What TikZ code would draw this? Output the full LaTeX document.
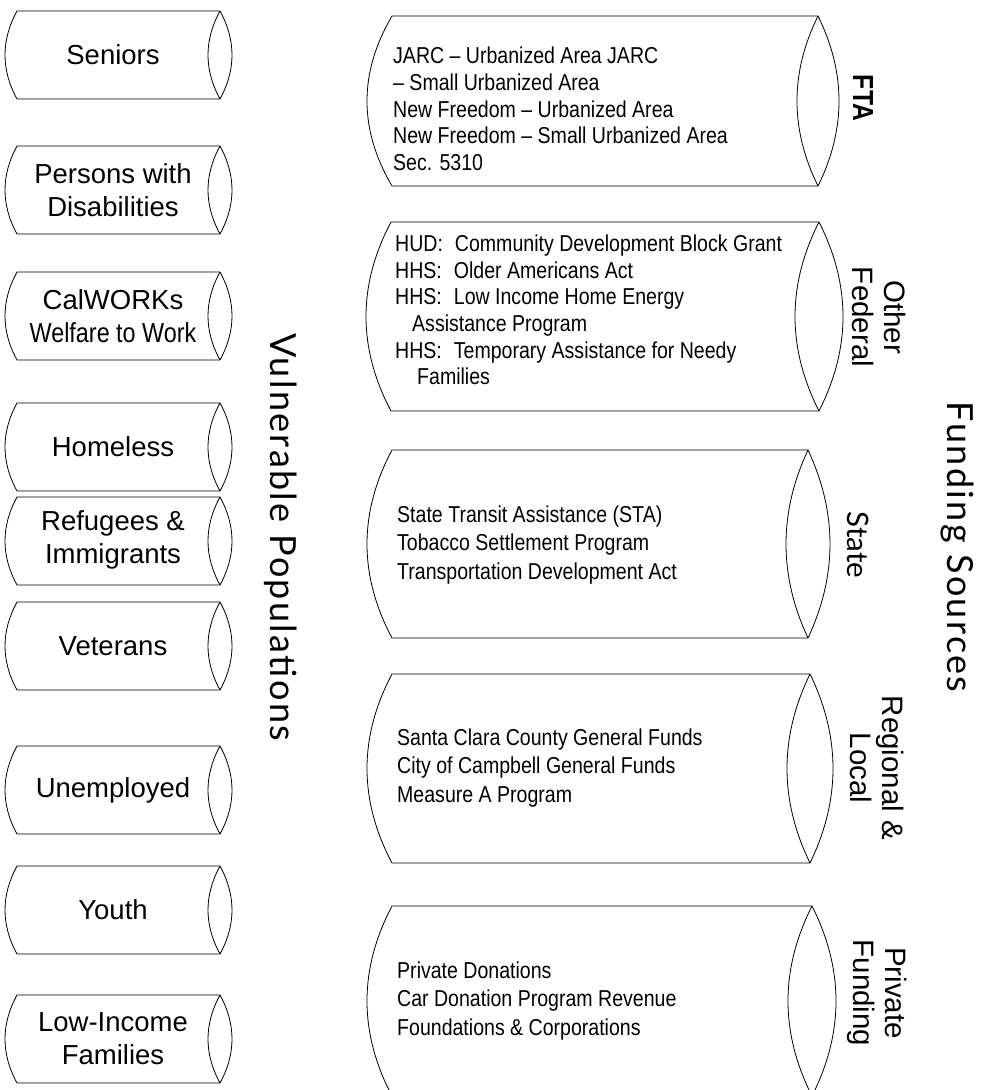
\documentclass[tikz,border=0pt]{standalone}
\usepackage{fontspec}
\setmainfont{Liberation Sans}
\newfontfamily\narrowfont[FakeStretch=0.85]{Liberation Sans}
\newfontfamily\headfont[LetterSpace=6.5]{Lato}
\newfontfamily\statefont{Lato}
\usetikzlibrary{positioning}

\tikzstyle{popname} = [align=center, font=\fontsize{27.5}{33}\selectfont]
\tikzstyle{fundname} = [align=center, rotate=-90, font=\fontsize{29.5}{32}\selectfont]
\tikzstyle{fundlist} = [align=left, anchor=west, inner sep=0pt, font=\narrowfont\fontsize{23}{26.7}\selectfont]
\tikzstyle{heading} = [rotate=-90, font=\headfont\fontsize{36}{40}\selectfont]
\tikzstyle{tube} = [draw=black, line width=0.8pt]

% tube: left x, lens x, top, bottom, left bulge, lens bulge
\newcommand{\drawtube}[6]{%
  \draw [tube] (#1,#3) -- (#2,#3)
    .. controls ({#2+4/3*#6},{(#3)+((#4)-(#3))/3}) and ({#2+4/3*#6},{(#4)-((#4)-(#3))/3}) .. (#2,#4)
    -- (#1,#4)
    .. controls ({#1-4/3*#5},{(#4)-((#4)-(#3))/3}) and ({#1-4/3*#5},{(#3)+((#4)-(#3))/3}) .. cycle;
  \draw [tube] (#2,#3)
    .. controls ({#2-4/3*#6},{(#3)+((#4)-(#3))/3}) and ({#2-4/3*#6},{(#4)-((#4)-(#3))/3}) .. (#2,#4);
}

\begin{document}
\begin{tikzpicture}[x=1pt, y=-1pt]
	\useasboundingbox (0,0) rectangle (985,1090);
	\clip (0,0) rectangle (985,1090);

	% vulnerable populations
	\foreach \c in {55,190,316,447,541,646,790,910,1039}
		\drawtube{17}{220}{\c-44}{\c+44}{12}{12};

	\node (seniors) [popname] at (113,55) {Seniors};
	\node (disabled) [popname] at (113,190) {Persons with\\Disabilities};
	\node (calworks) [popname] at (113,316) {CalWORKs\\{\narrowfont Welfare to Work}};
	\node (homeless) [popname] at (113,447) {Homeless};
	\node (refugees) [popname] at (113,540) {Refugees \&\\Immigrants};
	\node (veterans) [popname] at (113,646) {Veterans};
	\node (unemployed) [popname] at (113,790) {Unemployed};
	\node (youth) [popname] at (113,910) {Youth};
	\node (lowincome) [popname] at (113,1039) {Low-Income\\Families};

	\node (vulnerable) [heading] at (281,537) {Vulnerable Populations};

	% funding sources
	\drawtube{392}{818}{16}{186}{25}{21};
	\drawtube{391}{819}{222}{411}{25}{24};
	\drawtube{392}{808}{450}{638}{25}{22};
	\drawtube{392}{810}{674}{863}{25}{23};
	\drawtube{392}{812}{906}{1096}{25}{24};

	\node (fta) [fundname, font=\narrowfont\bfseries\fontsize{29}{32}\selectfont] at (863,98) {FTA};
	\node (otherfed) [fundname] at (879,317) {Other\\Federal};
	\node (state) [fundname, font=\statefont\fontsize{29.5}{32}\selectfont] at (858,545) {State};
	\node (regional) [fundname] at (877,768) {Regional \&\\Local};
	\node (private) [fundname] at (877,993) {Private\\Funding};

	\node (ftalist) [fundlist] at (393,109) {JARC – Urbanized Area JARC\\– Small Urbanized Area\\New Freedom – Urbanized Area\\New Freedom – Small Urbanized Area\\Sec. 5310};
	\node (fedlist) [fundlist] at (395,310) {HUD:\hspace{12pt}Community Development Block Grant\\HHS:\hspace{12pt}Older Americans Act\\HHS:\hspace{12pt}Low Income Home Energy\\\hspace*{17pt}Assistance Program\\HHS:\hspace{12pt}Temporary Assistance for Needy\\\hspace*{22pt}Families};
	\node (statelist) [fundlist, font=\narrowfont\fontsize{23}{28.3}\selectfont] at (397,545) {State Transit Assistance (STA)\\Tobacco Settlement Program\\Transportation Development Act};
	\node (locallist) [fundlist, font=\narrowfont\fontsize{23}{28.3}\selectfont] at (397,768) {Santa Clara County General Funds\\City of Campbell General Funds\\Measure A Program};
	\node (privlist) [fundlist, font=\narrowfont\fontsize{23}{28.3}\selectfont] at (397,1001) {Private Donations\\Car Donation Program Revenue\\Foundations \& Corporations};

	\node (funding) [heading] at (957,547) {Funding Sources};
\end{tikzpicture}
\end{document}
